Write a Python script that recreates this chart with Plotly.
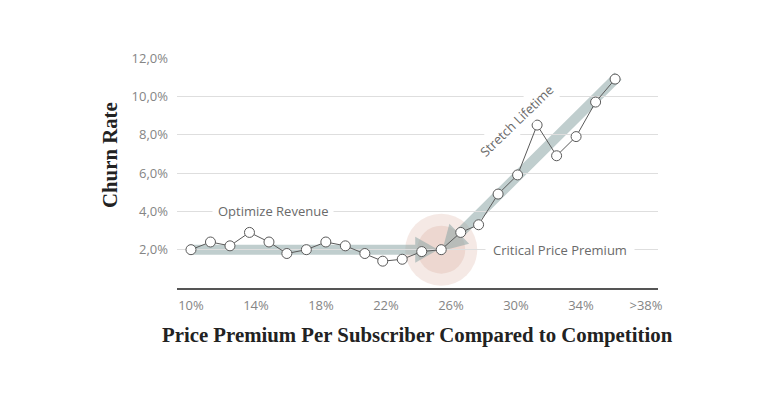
import math
import plotly.graph_objects as go

# ---- data ----
premium = [10.0, 11.2, 12.4, 13.6, 14.8, 15.9, 17.1, 18.3, 19.5, 20.7, 21.8, 23.0,
           24.2, 25.4, 26.6, 27.7, 28.9, 30.1, 31.3, 32.5, 33.7, 34.9, 36.1]
churn = [2.0, 2.4, 2.2, 2.9, 2.4, 1.8, 2.0, 2.4, 2.2, 1.8, 1.4, 1.5,
         1.9, 2.0, 2.9, 3.3, 4.9, 5.9, 8.5, 6.9, 7.9, 9.7, 10.9]
x_tick_vals = [10, 14, 18, 22, 26, 30, 34, 38]
x_tick_text = ["10%", "14%", "18%", "22%", "26%", "30%", "34%", ">38%"]
y_tick_vals = [2, 4, 6, 8, 10, 12]
y_tick_text = ["2,0%", "4,0%", "6,0%", "8,0%", "10,0%", "12,0%"]
critical_index = 13

# ---- layout constants (page body has an 8px margin) ----
OFF = 8
W, H = 768 - OFF, 396 - OFF
ML, MT = 177 - OFF, 58 - OFF
MR = W - (658 - OFF)
MB = H - (288 - OFF)
PW = W - ML - MR
PH = H - MT - MB
XR = [9.14, 38.74]
YR = [0, 12]

TICK_FONT = dict(family="Open Sans", size=13, color="#858585")
NOTE_FONT = dict(family="Open Sans", size=13, color="#6a6a6a")
TITLE_FONT = dict(family="Liberation Serif", size=20.8, color="#222222")


def to_px(x, y):
    return (ML + (x - XR[0]) / (XR[1] - XR[0]) * PW,
            MT + (YR[1] - y) / (YR[1] - YR[0]) * PH)


def to_data(px, py):
    return (XR[0] + (px - ML) / PW * (XR[1] - XR[0]),
            YR[1] - (py - MT) / PH * (YR[1] - YR[0]))


def arrow_path(tail, tip, half_w, head_len, head_half):
    dx, dy = tip[0] - tail[0], tip[1] - tail[1]
    ln = math.hypot(dx, dy)
    ux, uy = dx / ln, dy / ln
    nx, ny = -uy, ux
    bx, by = tip[0] - ux * head_len, tip[1] - uy * head_len
    pts = [
        (tail[0] + nx * half_w, tail[1] + ny * half_w),
        (bx + nx * half_w, by + ny * half_w),
        (bx + nx * head_half, by + ny * head_half),
        tip,
        (bx - nx * head_half, by - ny * head_half),
        (bx - nx * half_w, by - ny * half_w),
        (tail[0] - nx * half_w, tail[1] - ny * half_w),
    ]
    d = []
    for i, (px, py) in enumerate(pts):
        x, y = to_data(px, py)
        d.append(("M" if i == 0 else "L") + f"{x:.4f},{y:.4f}")
    return " ".join(d) + " Z"


crit_px = to_px(premium[critical_index], churn[critical_index])
first_px = to_px(premium[0], churn[0])
last_px = to_px(premium[-1], churn[-1])

band_color = "rgba(140,165,165,0.55)"
glow_color = "rgba(205,145,125,0.2)"

shapes = []
for r in (36, 24):
    shapes.append(dict(type="circle", xref="x", yref="y", layer="below",
                       xsizemode="pixel", ysizemode="pixel",
                       xanchor=premium[critical_index], yanchor=churn[critical_index],
                       x0=-r, x1=r, y0=-r, y1=r,
                       fillcolor=glow_color, line=dict(width=0)))

shapes.append(dict(type="path", xref="x", yref="y", layer="below",
                   path=arrow_path((first_px[0] + 1, crit_px[1]),
                                   (crit_px[0] - 3, crit_px[1]), 5, 23, 13),
                   fillcolor=band_color, line=dict(width=0)))
shapes.append(dict(type="path", xref="x", yref="y", layer="below",
                   path=arrow_path((last_px[0] + 3, last_px[1] - 3),
                                   (crit_px[0] + 1, crit_px[1] + 1), 5, 24, 14),
                   fillcolor=band_color, line=dict(width=0)))

fig = go.Figure()
fig.add_trace(go.Scatter(
    x=premium, y=churn, mode="lines+markers",
    line=dict(color="#5a5a5a", width=1),
    marker=dict(size=10, color="white", line=dict(color="#5a5a5a", width=1)),
    hoverinfo="skip", showlegend=False,
))


def paper(px, py):
    # px, py given in screen (reference) pixels
    return (px - OFF - ML) / PW, 1 - (py - OFF - MT) / PH


annotations = [
    dict(x=15.02, y=4, xref="x", yref="y", text="Optimize Revenue", showarrow=False,
         font=NOTE_FONT, bgcolor="white", borderpad=5),
    dict(x=32.68, y=2, xref="x", yref="y", text="Critical Price Premium", showarrow=False,
         font=NOTE_FONT, bgcolor="white", borderpad=7),
    dict(x=30.09, y=8.74, xref="x", yref="y", text="Stretch Lifetime", showarrow=False,
         font=NOTE_FONT, bgcolor="white", borderpad=3, textangle=-44),
]
yt = paper(109, 155)
xt = paper(417, 335)
annotations.append(dict(x=yt[0], y=yt[1], xref="paper", yref="paper",
                        text="<b>Churn Rate</b>", showarrow=False, textangle=-90,
                        font=TITLE_FONT, xanchor="center", yanchor="middle"))
annotations.append(dict(x=xt[0], y=xt[1], xref="paper", yref="paper",
                        text="<b>Price Premium Per Subscriber Compared to Competition</b>",
                        showarrow=False, font=TITLE_FONT,
                        xanchor="center", yanchor="middle"))

fig.update_layout(
    width=W, height=H,
    margin=dict(l=ML, r=MR, t=MT, b=MB, pad=0),
    paper_bgcolor="white", plot_bgcolor="white",
    shapes=shapes, annotations=annotations,
    xaxis=dict(range=XR, tickvals=x_tick_vals, ticktext=x_tick_text,
               showgrid=False, zeroline=False, showline=True,
               linecolor="#555555", linewidth=2, ticks="", ticklabelstandoff=4,
               tickfont=TICK_FONT, fixedrange=True),
    yaxis=dict(range=YR, tickvals=y_tick_vals, ticktext=y_tick_text,
               showgrid=True, gridcolor="#dedede", gridwidth=1,
               zeroline=False, showline=False, ticks="", ticklabelstandoff=8,
               tickfont=TICK_FONT, fixedrange=True),
)

fig.write_html("out.html", config={"displayModeBar": False})
